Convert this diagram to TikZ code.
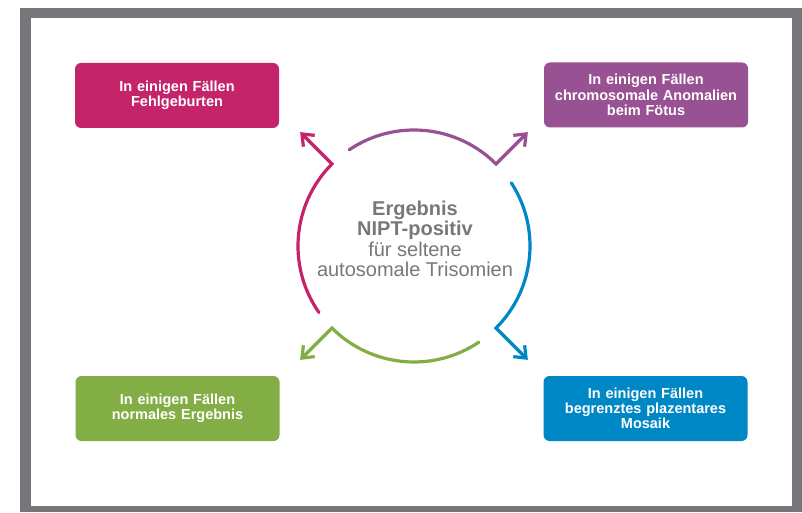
\documentclass[tikz,border=0pt]{standalone}
\usepackage{fontspec}
\setmainfont{Liberation Sans}
\usetikzlibrary{arrows.meta}
\definecolor{cpink}{HTML}{C4246A}
\definecolor{cpurple}{HTML}{985193}
\definecolor{cgreen}{HTML}{82AE45}
\definecolor{cblue}{HTML}{0087C6}
\definecolor{cframe}{HTML}{76777B}
\definecolor{ctext}{HTML}{77787B}
\begin{document}
\begin{tikzpicture}[x=1pt,y=1pt,
  outbox/.style={rounded corners=6pt, minimum width=204pt, minimum height=65pt, text width=200pt, align=center, text=white, font=\fontsize{14.5}{15.2}\selectfont\bfseries, inner sep=0pt},
  ring/.style={line width=3.2pt, line cap=round, line join=miter, -{Straight Barb[length=10pt,width=16pt]}}
]
\useasboundingbox (0,0) rectangle (802,512);
\fill[cframe] (20,0) rectangle (802,504);
\fill[white] (31,6) rectangle (792,494);
\node[outbox, fill=cpink] (pink) at (177,416.5) {In einigen Fällen\\Fehlgeburten};
\node[outbox, fill=cpurple] (purple) at (646,417) {In einigen Fällen\\chromosomale Anomalien\\beim Fötus};
\node[outbox, fill=cgreen] (green) at (177.5,103.5) {In einigen Fällen\\normales Ergebnis};
\node[outbox, fill=cblue] (blue) at (645.5,103.5) {In einigen Fällen\\begrenztes plazentares\\Mosaik};
\coordinate (c) at (414,266);
\draw[ring, cpink] (c) ++(215:116) arc[start angle=215, end angle=135, radius=116] -- ++(135:45);
\draw[ring, cpurple] (c) ++(124:116) arc[start angle=124, end angle=45, radius=116] -- ++(45:45);
\draw[ring, cblue] (c) ++(33:116) arc[start angle=33, end angle=-45, radius=116] -- ++(-45:45);
\draw[ring, cgreen] (c) ++(-56:116) arc[start angle=-56, end angle=-135, radius=116] -- ++(-135:45);
\node[text=ctext, align=center, inner sep=0pt, font=\fontsize{20}{20.5}\selectfont] (center) at (415,273) {\textbf{Ergebnis}\\\textbf{NIPT-positiv}\\für seltene\\autosomale Trisomien};
\end{tikzpicture}
\end{document}
